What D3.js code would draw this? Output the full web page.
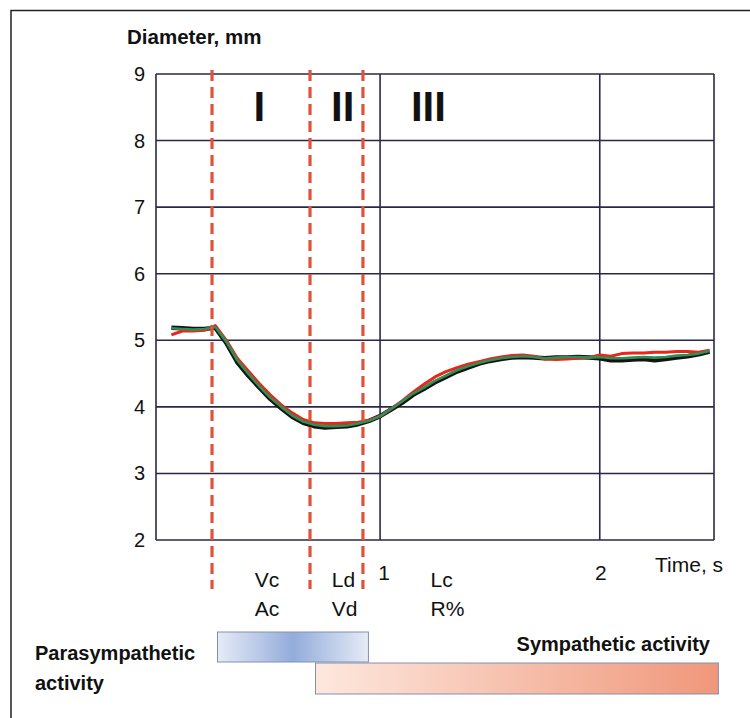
<!DOCTYPE html>
<html>
<head>
<meta charset="utf-8">
<script src="https://cdn.jsdelivr.net/npm/d3@7"></script>
<style>
  html, body { margin: 0; padding: 0; background: #fff; }
  svg { display: block; font-family: "Liberation Sans", Arial, sans-serif; }
</style>
</head>
<body>
<svg width="750" height="718"></svg>
<script>
// Sample times (s)
const times = [
  0.05, 0.10, 0.15, 0.20, 0.25, 0.30, 0.35, 0.40, 0.45, 0.50,
  0.55, 0.60, 0.65, 0.70, 0.75, 0.80, 0.85, 0.90, 0.95, 1.00,
  1.05, 1.10, 1.15, 1.20, 1.25, 1.30, 1.35, 1.40, 1.45, 1.50,
  1.55, 1.60, 1.65, 1.70, 1.75, 1.80, 1.85, 1.90, 1.95, 2.00,
  2.05, 2.10, 2.15, 2.20, 2.25, 2.30, 2.35, 2.40, 2.45, 2.50
];

// Pupil diameter (mm), three recordings
const redSeries = [
  5.08, 5.14, 5.14, 5.15, 5.22, 5.00, 4.73, 4.54, 4.35, 4.18,
  4.03, 3.91, 3.81, 3.76, 3.75, 3.75, 3.76, 3.77, 3.80, 3.86,
  3.97, 4.09, 4.22, 4.34, 4.45, 4.53, 4.59, 4.64, 4.68, 4.72,
  4.75, 4.77, 4.78, 4.76, 4.72, 4.71, 4.72, 4.73, 4.74, 4.78,
  4.76, 4.80, 4.81, 4.81, 4.82, 4.82, 4.83, 4.83, 4.82, 4.85
];
const blackSeries = [
  5.19, 5.18, 5.17, 5.17, 5.19, 4.96, 4.67, 4.47, 4.29, 4.12,
  3.98, 3.85, 3.76, 3.71, 3.69, 3.70, 3.71, 3.74, 3.79, 3.86,
  3.96, 4.06, 4.18, 4.27, 4.37, 4.45, 4.53, 4.59, 4.65, 4.69,
  4.72, 4.74, 4.75, 4.74, 4.73, 4.74, 4.74, 4.75, 4.74, 4.73,
  4.70, 4.70, 4.71, 4.72, 4.70, 4.72, 4.74, 4.76, 4.79, 4.83
];
const greenSeries = [
  5.18, 5.17, 5.16, 5.17, 5.20, 4.98, 4.70, 4.50, 4.31, 4.14,
  4.00, 3.87, 3.78, 3.73, 3.71, 3.71, 3.72, 3.75, 3.79, 3.86,
  3.97, 4.08, 4.20, 4.29, 4.39, 4.47, 4.55, 4.61, 4.66, 4.70,
  4.73, 4.75, 4.76, 4.75, 4.73, 4.74, 4.75, 4.75, 4.74, 4.75,
  4.73, 4.73, 4.74, 4.75, 4.74, 4.75, 4.77, 4.78, 4.80, 4.84
];

const yTicks = [2, 3, 4, 5, 6, 7, 8, 9];
const xTicks = [1, 2];
const phaseBounds = [0.235, 0.681, 0.922];
const phaseNames = ["I", "II", "III"];
const phaseNameAt = [0.45, 0.83, 1.22];
const paramTop = ["Vc", "Ld", "Lc"];
const paramBottom = ["Ac", "Vd", "R%"];
const paramAt = [0.43, 0.78, 1.23];
// activity bars: [start, end] in seconds
const paraSpan = [0.26, 0.947];
const sympSpan = [0.706, 2.54];

const svg = d3.select("svg");
const margin = { top: 74, right: 36, bottom: 178, left: 156 };
const width = 750, height = 718;

const x = d3.scaleLinear()
  .domain([-0.02, 2.52])
  .range([margin.left, width - margin.right]);

const y = d3.scaleLinear()
  .domain([2, 9])
  .range([height - margin.bottom, margin.top]);

const gridColor = "#2b2748";

// Outer frame
svg.append("path")
  .attr("d", "M11,718 L11,10.5 L750,10.5")
  .attr("fill", "none")
  .attr("stroke", "#222")
  .attr("stroke-width", 1.5);

const g = svg.append("g");

// Horizontal grid lines
g.append("g")
  .selectAll("line")
  .data(yTicks)
  .join("line")
  .attr("x1", x.range()[0])
  .attr("x2", x.range()[1])
  .attr("y1", d => y(d))
  .attr("y2", d => y(d))
  .attr("stroke", gridColor)
  .attr("stroke-width", 1.6);

// Vertical grid lines + borders
g.append("g")
  .selectAll("line")
  .data([x.domain()[0], ...xTicks, x.domain()[1]])
  .join("line")
  .attr("x1", d => x(d))
  .attr("x2", d => x(d))
  .attr("y1", y(9))
  .attr("y2", y(2))
  .attr("stroke", gridColor)
  .attr("stroke-width", 1.6);

// Y tick labels
g.append("g")
  .selectAll("text")
  .data(yTicks)
  .join("text")
  .attr("x", margin.left - 11)
  .attr("y", d => y(d) + 7)
  .attr("text-anchor", "end")
  .attr("font-size", "20px")
  .attr("fill", "#111")
  .text(d => d);

// X tick labels
g.append("g")
  .selectAll("text")
  .data(xTicks)
  .join("text")
  .attr("x", d => x(d) + (d === 1 ? 4 : 1))
  .attr("y", 580)
  .attr("text-anchor", "middle")
  .attr("font-size", "21px")
  .attr("fill", "#111")
  .text(d => d);

svg.append("text")
  .attr("x", 127)
  .attr("y", 44)
  .attr("font-size", "20.5px")
  .attr("font-weight", "bold")
  .attr("fill", "#111")
  .text("Diameter, mm");

svg.append("text")
  .attr("x", 655)
  .attr("y", 572)
  .attr("font-size", "21px")
  .attr("fill", "#111")
  .text("Time, s");

// Data lines
const line = d3.line()
  .x((d, i) => x(times[i]))
  .y(d => y(d));

const series = [
  { values: blackSeries, color: "#141414", w: 4.5 },
  { values: redSeries, color: "#e8261c", w: 3 },
  { values: greenSeries, color: "#2f8f55", w: 2.6 }
];

g.append("g")
  .selectAll("path")
  .data(series)
  .join("path")
  .attr("d", d => line(d.values))
  .attr("fill", "none")
  .attr("stroke", d => d.color)
  .attr("stroke-width", d => d.w)
  .attr("stroke-linejoin", "round");

// Phase boundaries
g.append("g")
  .selectAll("line")
  .data(phaseBounds)
  .join("line")
  .attr("x1", d => x(d))
  .attr("x2", d => x(d))
  .attr("y1", 70)
  .attr("y2", 589)
  .attr("stroke", "#e0533a")
  .attr("stroke-width", 3.2)
  .attr("stroke-dasharray", "11,6");

g.append("g")
  .selectAll("text")
  .data(phaseNames)
  .join("text")
  .attr("x", (d, i) => x(phaseNameAt[i]))
  .attr("y", 121)
  .attr("text-anchor", "middle")
  .attr("font-size", "42px")
  .attr("font-weight", "bold")
  .attr("fill", "#111")
  .text(d => d);

// Parameter labels under phases
g.append("g")
  .selectAll("text")
  .data(paramTop)
  .join("text")
  .attr("x", (d, i) => x(paramAt[i]))
  .attr("y", 587)
  .attr("font-size", "21px")
  .attr("fill", "#111")
  .text(d => d);

g.append("g")
  .selectAll("text")
  .data(paramBottom)
  .join("text")
  .attr("x", (d, i) => x(paramAt[i]))
  .attr("y", 616)
  .attr("font-size", "21px")
  .attr("fill", "#111")
  .text(d => d);

// Activity bars
const defs = svg.append("defs");
const blueGrad = defs.append("linearGradient").attr("id", "paraGrad");
blueGrad.append("stop").attr("offset", "0%").attr("stop-color", "#e6ebf6");
blueGrad.append("stop").attr("offset", "50%").attr("stop-color", "#93acdb");
blueGrad.append("stop").attr("offset", "100%").attr("stop-color", "#e6ebf6");

const redGrad = defs.append("linearGradient").attr("id", "sympGrad");
redGrad.append("stop").attr("offset", "0%").attr("stop-color", "#fde8de");
redGrad.append("stop").attr("offset", "100%").attr("stop-color", "#f0977a");

svg.append("rect")
  .attr("x", x(paraSpan[0]))
  .attr("y", 632)
  .attr("width", x(paraSpan[1]) - x(paraSpan[0]))
  .attr("height", 30)
  .attr("fill", "url(#paraGrad)")
  .attr("stroke", "#8290b0")
  .attr("stroke-width", 1);

svg.append("rect")
  .attr("x", x(sympSpan[0]))
  .attr("y", 663)
  .attr("width", x(sympSpan[1]) - x(sympSpan[0]))
  .attr("height", 31)
  .attr("fill", "url(#sympGrad)")
  .attr("stroke", "#8290b0")
  .attr("stroke-width", 1);

svg.append("text")
  .attr("x", 35)
  .attr("y", 660)
  .attr("font-size", "20px")
  .attr("font-weight", "bold")
  .attr("fill", "#111")
  .text("Parasympathetic");

svg.append("text")
  .attr("x", 35)
  .attr("y", 690)
  .attr("font-size", "20px")
  .attr("font-weight", "bold")
  .attr("fill", "#111")
  .text("activity");

svg.append("text")
  .attr("x", 710)
  .attr("y", 651)
  .attr("text-anchor", "end")
  .attr("font-size", "20px")
  .attr("font-weight", "bold")
  .attr("fill", "#111")
  .text("Sympathetic activity");
</script>
</body>
</html>
